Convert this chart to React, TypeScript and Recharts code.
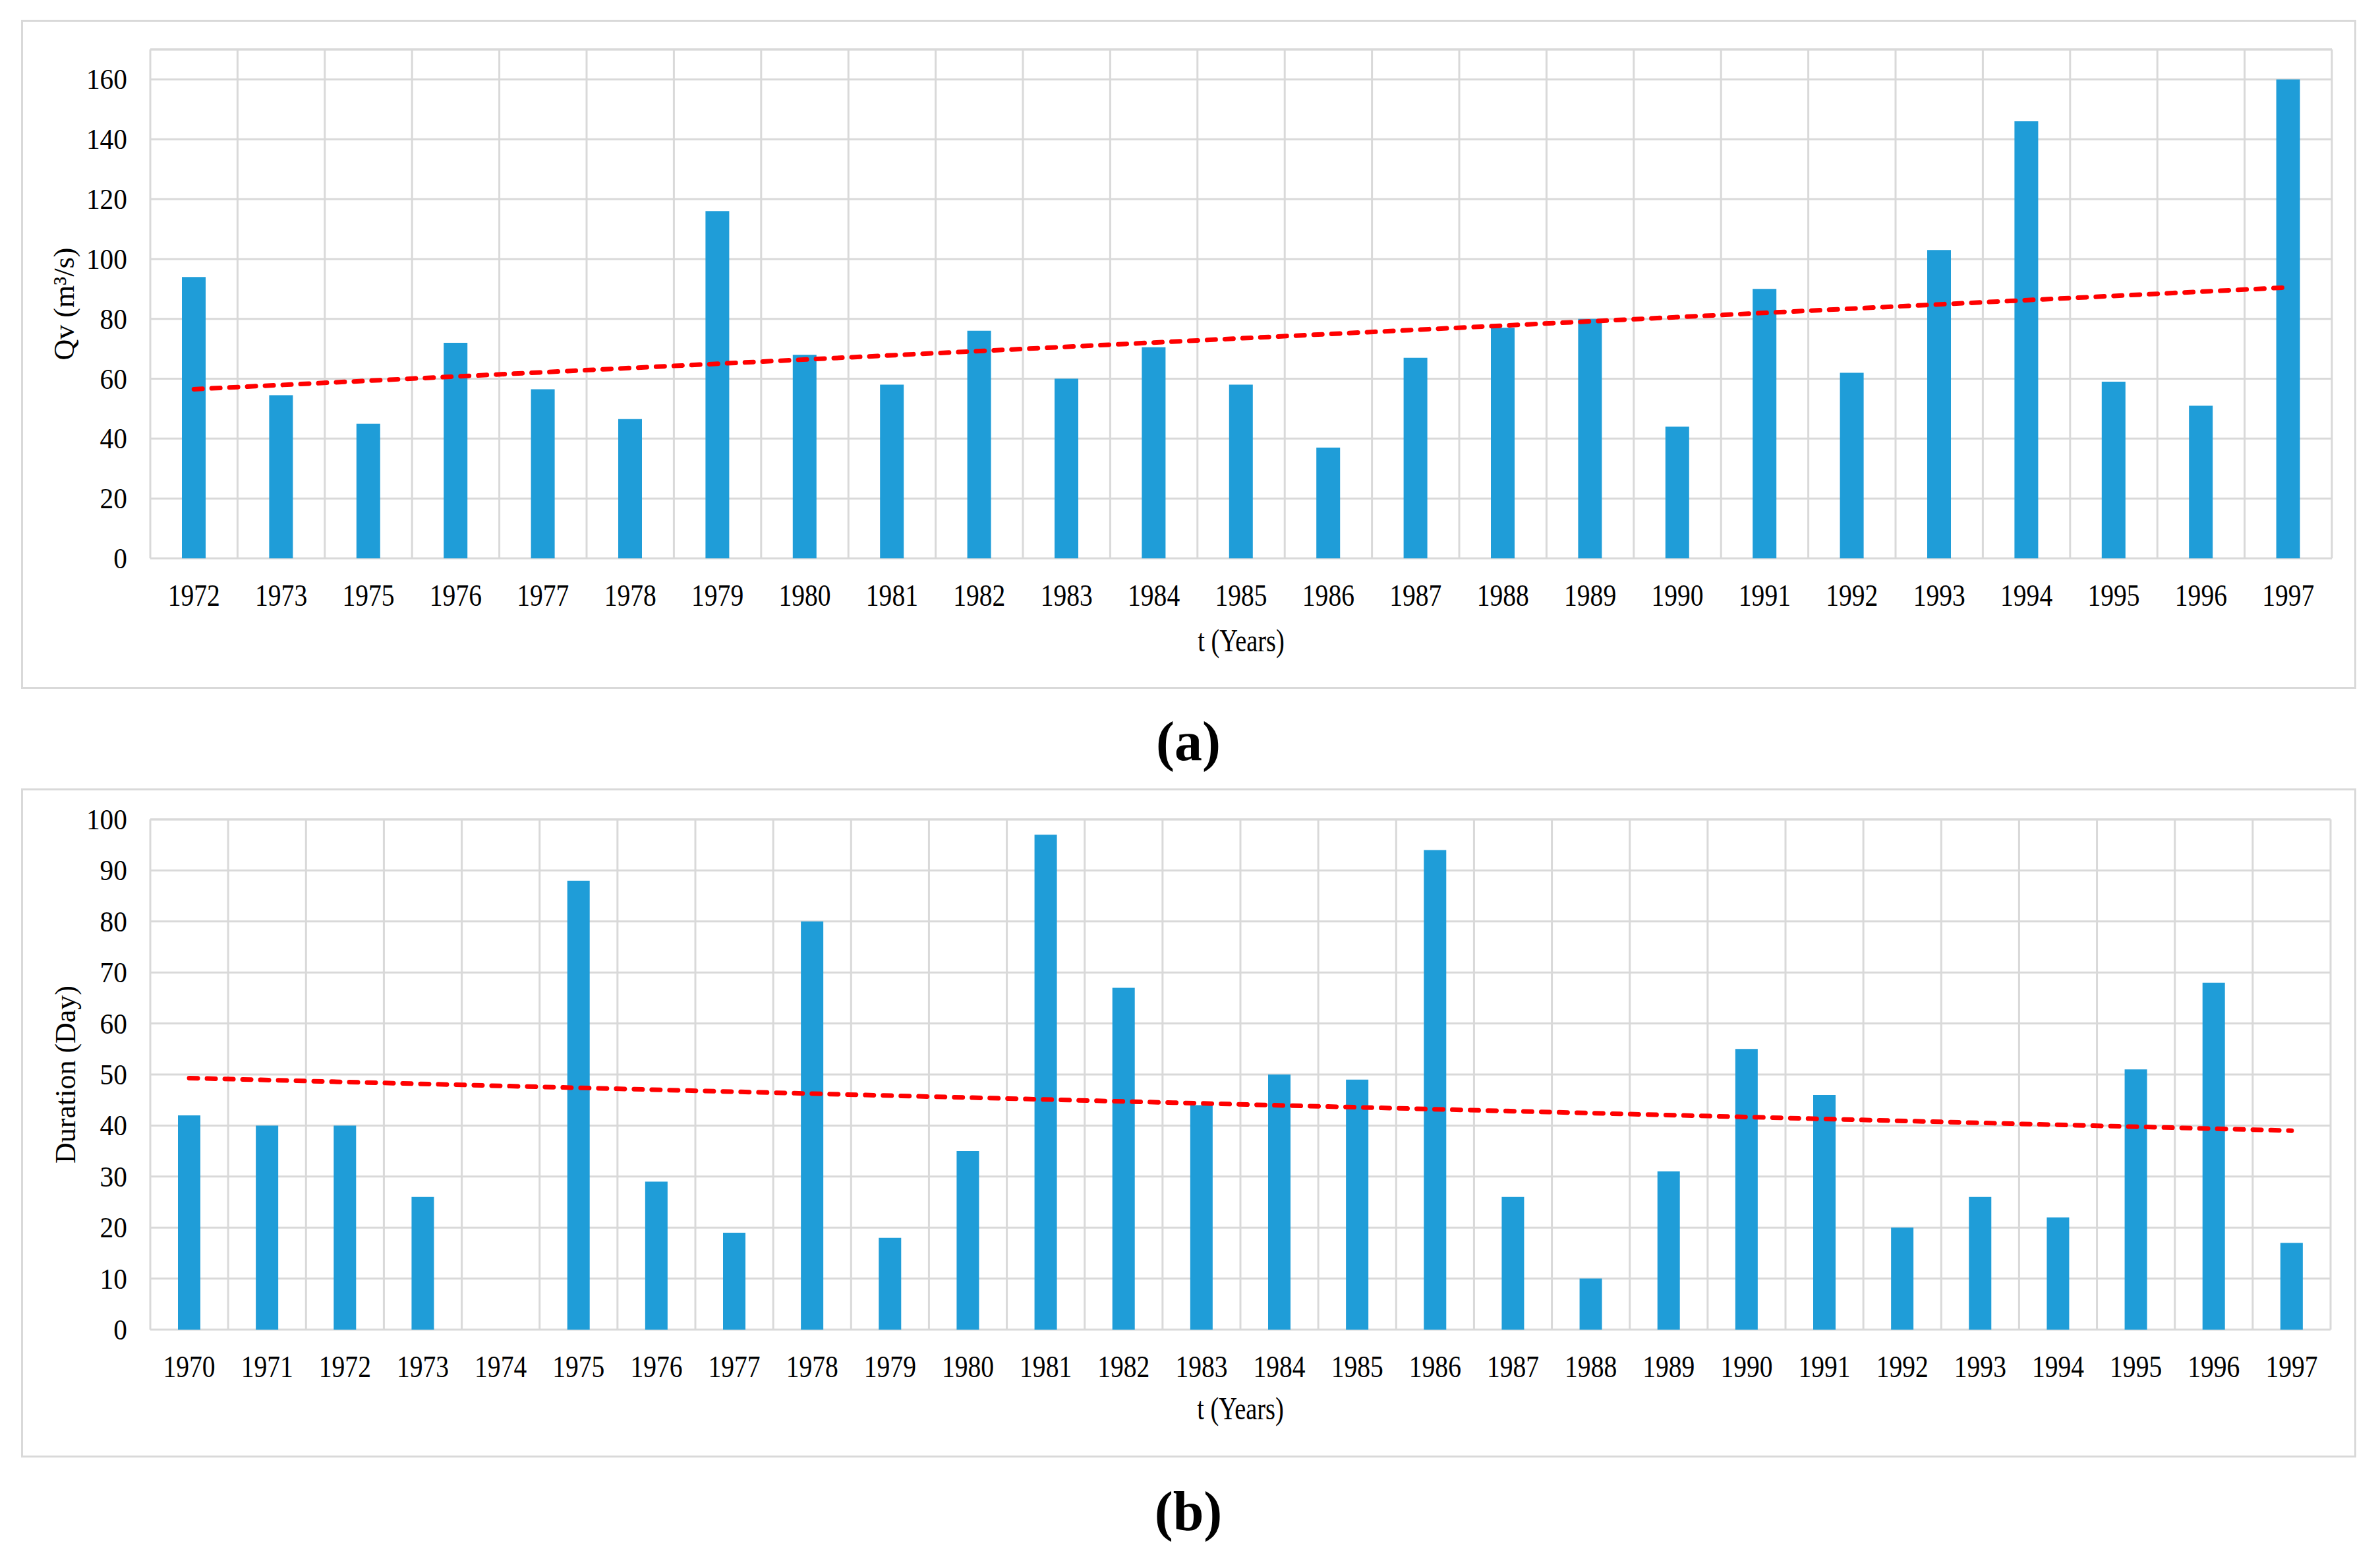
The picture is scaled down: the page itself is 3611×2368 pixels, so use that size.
import React from 'react';
import { ComposedChart, Bar, Line, XAxis, YAxis, CartesianGrid, ReferenceLine, Label } from 'recharts';

// ---------- data (a) ----------
const yearsA = ['1972', '1973', '1975', '1976', '1977', '1978', '1979', '1980', '1981', '1982', '1983', '1984', '1985', '1986', '1987', '1988', '1989', '1990', '1991', '1992', '1993', '1994', '1995', '1996', '1997'];
const qvValues = [94, 54.5, 45, 72, 56.5, 46.5, 116, 68, 58, 76, 60, 70.5, 58, 37, 67, 77, 80, 44, 90, 62, 103, 146, 59, 51, 160];
const trendEndsA = [56.5, 90.5];
const yTicksA = [0, 20, 40, 60, 80, 100, 120, 140, 160];
const yMaxA = 170;

// ---------- data (b) ----------
const yearsB = ['1970', '1971', '1972', '1973', '1974', '1975', '1976', '1977', '1978', '1979', '1980', '1981', '1982', '1983', '1984', '1985', '1986', '1987', '1988', '1989', '1990', '1991', '1992', '1993', '1994', '1995', '1996', '1997'];
const durationValues = [42, 40, 40, 26, 0, 88, 29, 19, 80, 18, 35, 97, 67, 44, 50, 49, 94, 26, 10, 31, 55, 46, 20, 26, 22, 51, 68, 17];
const trendEndsB = [49.3, 39];
const yTicksB = [0, 10, 20, 30, 40, 50, 60, 70, 80, 90, 100];
const yMaxB = 100;

const FONT = "'Liberation Serif', 'Times New Roman', serif";
const GRID = '#d9d9d9';
const BAR = '#1f9dd8';
const TREND = '#ff0000';

function buildRows(years: string[], values: number[], ends: number[]) {
  return years.map((year, i) => ({
    year,
    value: values[i],
    slot: i + 0.5,
    trend: i === 0 ? ends[0] : i === years.length - 1 ? ends[1] : null,
  }));
}

const XTick = (props: any) => {
  const { x, y, payload } = props;
  return (
    <text
      transform={`translate(${x},${y + 72}) scale(0.86,1)`}
      textAnchor="middle"
      fontFamily={FONT}
      fontSize={46}
      fill="#000"
    >
      {payload.value}
    </text>
  );
};

const YTick = (props: any) => {
  const { x, y, payload } = props;
  return (
    <text
      transform={`translate(${x - 35},${y + 15}) scale(0.92,1)`}
      textAnchor="end"
      fontFamily={FONT}
      fontSize={45}
      fill="#000"
    >
      {payload.value}
    </text>
  );
};

type PanelProps = {
  years: string[];
  values: number[];
  ends: number[];
  yTicks: number[];
  yMax: number;
  yLabel: string;
  top: number;
  margin: { top: number; right: number; bottom: number; left: number };
  barSize: number;
  xTitleGap: number;
  yTitleX: number;
};

function Panel(p: PanelProps) {
  const rows = buildRows(p.years, p.values, p.ends);
  const n = p.years.length;
  const bounds = Array.from({ length: n + 1 }, (_, i) => i);
  return (
    <div style={{ position: 'absolute', left: 0, top: p.top }}>
      <ComposedChart width={3611} height={1100} data={rows} margin={p.margin}>
        <CartesianGrid vertical={false} stroke={GRID} strokeWidth={3} />
        <XAxis
          dataKey="year"
          axisLine={false}
          tickLine={false}
          tickSize={0}
          tickMargin={0}
          height={100}
          interval={0}
          tick={<XTick />}
        >
          <Label
            content={(lp: any) => {
              const vb = lp.viewBox || {};
              return (
                <text
                  transform={`translate(${vb.x + vb.width / 2},${vb.y + p.xTitleGap}) scale(0.8,1)`}
                  textAnchor="middle"
                  fontFamily={FONT}
                  fontSize={48}
                  fill="#000"
                >
                  t (Years)
                </text>
              );
            }}
          />
        </XAxis>
        <XAxis xAxisId="grid" dataKey="slot" type="number" domain={[0, n]} allowDataOverflow hide />
        <YAxis
          domain={[0, p.yMax]}
          ticks={p.yTicks}
          axisLine={false}
          tickLine={false}
          tickSize={0}
          tickMargin={0}
          width={200}
          interval={0}
          tick={<YTick />}
        >
          <Label
            content={(lp: any) => {
              const vb = lp.viewBox || {};
              const cy = vb.y + vb.height / 2;
              return (
                <text
                  transform={`translate(${p.yTitleX},${cy}) rotate(-90)`}
                  textAnchor="middle"
                  fontFamily={FONT}
                  fontSize={44}
                  fill="#000"
                >
                  {p.yLabel}
                </text>
              );
            }}
          />
        </YAxis>
        {bounds.map((b) => (
          <ReferenceLine key={`vb${b}`} xAxisId="grid" x={b} stroke={GRID} strokeWidth={3} />
        ))}
        <ReferenceLine y={p.yMax} stroke={GRID} strokeWidth={3} />
        <Bar dataKey="value" fill={BAR} barSize={p.barSize} isAnimationActive={false} />
        <Line
          dataKey="trend"
          connectNulls
          dot={false}
          activeDot={false}
          stroke={TREND}
          strokeWidth={7}
          strokeDasharray="13 14"
          strokeLinecap="round"
          isAnimationActive={false}
        />
      </ComposedChart>
    </div>
  );
}

export default function App() {
  return (
    <div style={{ position: 'absolute', left: 0, top: 0, width: 3611, height: 2368, background: '#fff', overflow: 'hidden' }}>
      <svg width={3611} height={2368} style={{ position: 'absolute', left: 0, top: 0 }}>
        <rect x={33.5} y={31.5} width={3540} height={1012} fill="none" stroke={GRID} strokeWidth={3} />
        <rect x={33.5} y={1197.5} width={3540} height={1012} fill="none" stroke={GRID} strokeWidth={3} />
        <text x={1803} y={1153} textAnchor="middle" fontFamily={FONT} fontSize={84} fontWeight="bold" fill="#000">(a)</text>
        <text x={1803} y={2321} textAnchor="middle" fontFamily={FONT} fontSize={84} fontWeight="bold" fill="#000">(b)</text>
      </svg>
      <Panel
        years={yearsA}
        values={qvValues}
        ends={trendEndsA}
        yTicks={yTicksA}
        yMax={yMaxA}
        yLabel="Qv (m³/s)"
        top={0}
        margin={{ top: 75, right: 73, bottom: 153, left: 28 }}
        barSize={36}
        xTitleGap={141}
        yTitleX={112}
      />
      <Panel
        years={yearsB}
        values={durationValues}
        ends={trendEndsB}
        yTicks={yTicksB}
        yMax={yMaxB}
        yLabel="Duration (Day)"
        top={1150}
        margin={{ top: 93, right: 75, bottom: 133, left: 28 }}
        barSize={34}
        xTitleGap={136}
        yTitleX={114}
      />
    </div>
  );
}
